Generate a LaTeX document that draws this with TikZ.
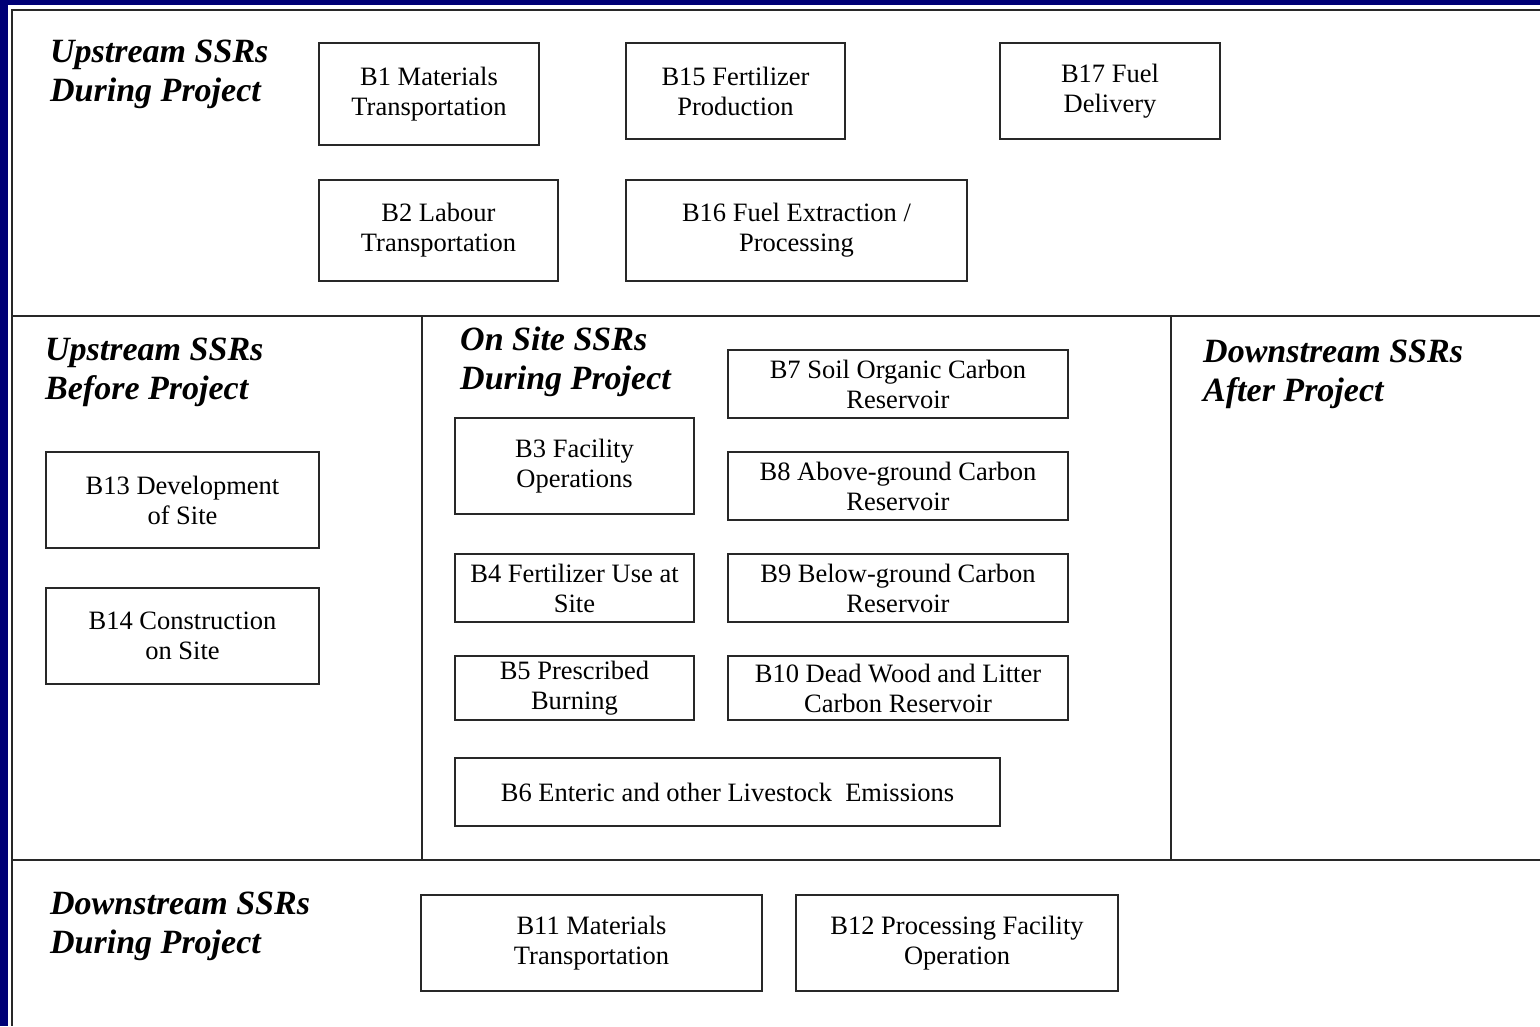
\documentclass[tikz,border=0pt]{standalone}
\usepackage{fontspec}
\setmainfont{Liberation Serif}
\definecolor{navy}{RGB}{0,0,118}
\definecolor{rule}{RGB}{40,40,40}
\tikzset{
  ssrbox/.style={draw=rule, line width=1.8pt, inner sep=0pt, align=center,
    font=\fontsize{26.5}{30}\selectfont},
  heading/.style={anchor=north west, inner sep=0pt, align=left,
    font=\fontsize{34}{38.5}\selectfont\bfseries\itshape},
  frame/.style={draw=rule, line width=1.8pt}
}
\begin{document}
\begin{tikzpicture}[x=1pt,y=-1pt]
  \useasboundingbox (0,0) rectangle (1540,1026);
  % slide background and white page
  \fill[navy] (0,0) rectangle (1540,1026);
  \fill[white] (8,5) rectangle (1540,1026);

  % section frame
  \draw[frame] (1540,10) -- (12,10) -- (12,1026);
  \draw[frame] (12,316) -- (1540,316);
  \draw[frame] (12,860) -- (1540,860);
  \draw[frame] (422,316) -- (422,860);
  \draw[frame] (1171,316) -- (1171,860);

  % section headings
  \node[heading] (hupdur) at (50,40) {Upstream SSRs\\During Project};
  \node[heading] (hupbef) at (45,338) {Upstream SSRs\\Before Project};
  \node[heading] (honsite) at (460,327) {On Site SSRs\\During Project};
  \node[heading] (hdnaft) at (1203,340) {Downstream SSRs\\After Project};
  \node[heading] (hdndur) at (50,892) {Downstream SSRs\\During Project};

  % upstream during project
  \node[ssrbox, minimum width=220pt, minimum height=102pt] (b1) at (429,94) {B1 Materials\\Transportation};
  \node[ssrbox, minimum width=219pt, minimum height=96pt] (b15) at (735.5,91) {B15 Fertilizer\\Production};
  \node[ssrbox, minimum width=220pt, minimum height=96pt] (b17) at (1110,91) {B17 Fuel\\Delivery};
  \node[ssrbox, minimum width=239pt, minimum height=101pt] (b2) at (438.5,230.5) {B2 Labour\\Transportation};
  \node[ssrbox, minimum width=341pt, minimum height=101pt] (b16) at (796.5,230.5) {B16 Fuel Extraction /\\Processing};

  % upstream before project
  \node[ssrbox, minimum width=273pt, minimum height=96pt] (b13) at (182.5,500) {B13 Development\\of Site};
  \node[ssrbox, minimum width=273pt, minimum height=96pt] (b14) at (182.5,636) {B14 Construction\\on Site};

  % on site during project
  \node[ssrbox, minimum width=340pt, minimum height=68pt] (b7) at (898,384) {B7 Soil Organic Carbon\\Reservoir};
  \node[ssrbox, minimum width=239pt, minimum height=96pt] (b3) at (574.5,466) {B3 Facility\\Operations};
  \node[ssrbox, minimum width=340pt, minimum height=68pt] (b8) at (898,486) {B8 Above-ground Carbon\\Reservoir};
  \node[ssrbox, minimum width=239pt, minimum height=68pt] (b4) at (574.5,588) {B4 Fertilizer Use at\\Site};
  \node[ssrbox, minimum width=340pt, minimum height=68pt] (b9) at (898,588) {B9 Below-ground Carbon\\Reservoir};
  \node[ssrbox, minimum width=239pt, minimum height=64pt] (b5) at (574.5,688) {B5 Prescribed\\Burning};
  \node[ssrbox, minimum width=340pt, minimum height=64pt] (b10) at (898,688) {B10 Dead Wood and Litter\\Carbon Reservoir};
  \node[ssrbox, minimum width=545pt, minimum height=68pt] (b6) at (727.5,792) {B6 Enteric and other Livestock~ Emissions};

  % downstream during project
  \node[ssrbox, minimum width=341pt, minimum height=96pt] (b11) at (591.5,943) {B11 Materials\\Transportation};
  \node[ssrbox, minimum width=322pt, minimum height=96pt] (b12) at (957,943) {B12 Processing Facility\\Operation};
\end{tikzpicture}
\end{document}
